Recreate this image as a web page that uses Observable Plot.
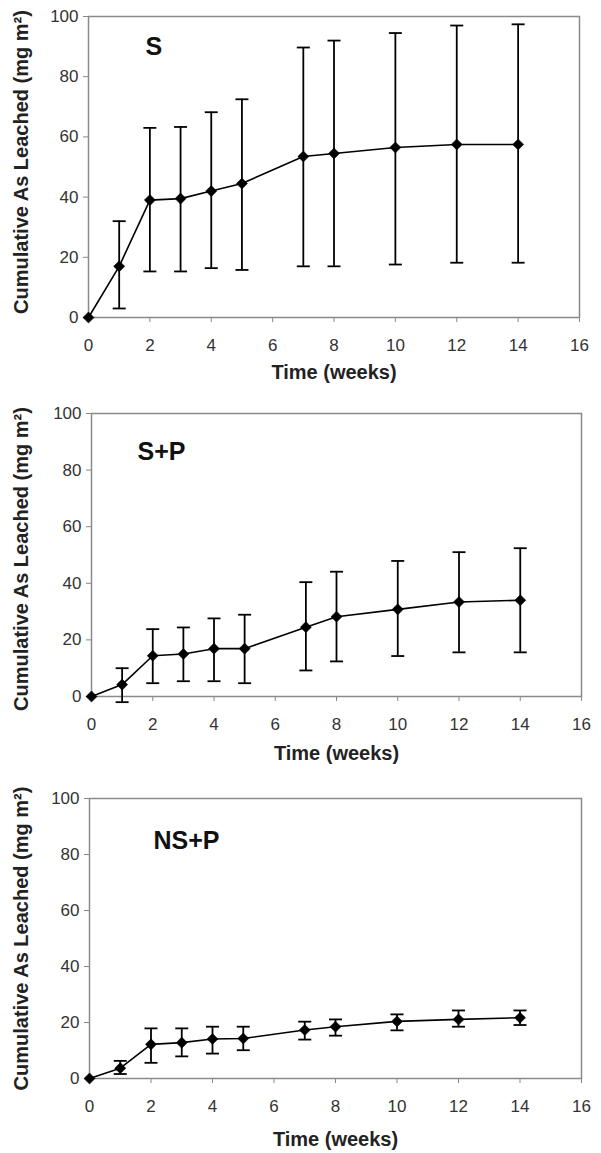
<!DOCTYPE html>
<html>
<head>
<meta charset="utf-8">
<script src="https://cdn.jsdelivr.net/npm/d3@7"></script>
<script src="https://cdn.jsdelivr.net/npm/@observablehq/plot@0.6"></script>
<style>
  html, body { margin: 0; padding: 0; background: #fff; }
  #chart { position: relative; width: 601px; height: 1153px; background: #fff; font-family: "Liberation Sans", Arial, sans-serif; }
  #chart > div { position: absolute; left: 0; }
</style>
</head>
<body>
<div id="chart"></div>
<script>
// ---- data ----
const weeks = [0, 1, 2, 3, 4, 5, 7, 8, 10, 12, 14];
const panelNames = ["S", "S+P", "NS+P"];

const S_mean  = [0, 17, 39, 39.5, 42, 44.5, 53.5, 54.5, 56.5, 57.5, 57.5];
const S_upper = [null, 32, 63, 63.3, 68.2, 72.5, 89.7, 92, 94.5, 97, 97.4];
const S_lower = [null, 3, 15.3, 15.3, 16.4, 15.8, 17, 17, 17.6, 18.2, 18.2];

const SP_mean  = [0, 4.2, 14.4, 15, 16.9, 16.9, 24.5, 28.2, 30.8, 33.4, 34];
const SP_upper = [null, 10, 23.8, 24.4, 27.6, 28.9, 40.4, 44.1, 47.9, 51, 52.4];
const SP_lower = [null, -2, 4.7, 5.4, 5.4, 4.7, 9.2, 12.4, 14.3, 15.6, 15.6];

const NSP_mean  = [0, 3.7, 12.2, 12.8, 14.1, 14.3, 17.3, 18.5, 20.4, 21.1, 21.7];
const NSP_upper = [null, 6.3, 17.9, 17.9, 18.5, 18.5, 20.3, 21.1, 22.9, 24.3, 24.3];
const NSP_lower = [null, 1.6, 5.6, 7.9, 8.9, 10.1, 13.9, 15.3, 17.2, 18.5, 19.1];

const xTicks = [0, 2, 4, 6, 8, 10, 12, 14, 16];
const yTicks = [0, 20, 40, 60, 80, 100];
const xTitle = "Time (weeks)";
const yTitle = "Cumulative As Leached (mg m²)";

// ---- layout ----
const panels = [
  {name: panelNames[0], mean: S_mean, upper: S_upper, lower: S_lower,
   top: 0, height: 380, mt: 16, mb: 63, ml: 88, mr: 22, lx: 57, ly: 30, ydy: -5, tdy: 47},
  {name: panelNames[1], mean: SP_mean, upper: SP_upper, lower: SP_lower,
   top: 380, height: 380, mt: 33, mb: 64, ml: 91, mr: 20, lx: 46, ly: 38, ydy: 4, tdy: 49},
  {name: panelNames[2], mean: NSP_mean, upper: NSP_upper, lower: NSP_lower,
   top: 760, height: 393, mt: 38, mb: 75, ml: 89, mr: 20, lx: 64, ly: 42, ydy: 0, tdy: 53}
];

const capSymbol = {
  draw(ctx, size) {
    const r = Math.sqrt(size / Math.PI);
    ctx.moveTo(-r, 0);
    ctx.lineTo(r, 0);
  }
};

const chart = document.getElementById("chart");

for (const p of panels) {
  const rows = weeks.map((w, i) => ({week: w, mean: p.mean[i], upper: p.upper[i], lower: p.lower[i]}));
  const bars = rows.filter(d => d.upper != null);

  const plot = Plot.plot({
    width: 601,
    height: p.height,
    marginTop: p.mt,
    marginBottom: p.mb,
    marginLeft: p.ml,
    marginRight: p.mr,
    style: {fontFamily: '"Liberation Sans", Arial, sans-serif', background: "transparent", overflow: "visible"},
    x: {domain: [0, 16]},
    y: {domain: [0, 100]},
    marks: [
      Plot.axisX({ticks: xTicks, tickSize: 5, tickPadding: 16, fontSize: 17, color: "#333", stroke: "#888", label: null}),
      Plot.axisY({ticks: yTicks, tickSize: 5, tickPadding: 5, fontSize: 17, color: "#333", stroke: "#888", label: null}),
      Plot.frame({stroke: "#8a8a8a", strokeWidth: 1.5}),
      Plot.ruleX(bars, {x: "week", y1: "lower", y2: "upper", stroke: "#000", strokeWidth: 1.8}),
      Plot.dot(bars, {x: "week", y: "upper", symbol: capSymbol, r: 6.5, stroke: "#000", strokeWidth: 1.8}),
      Plot.dot(bars, {x: "week", y: "lower", symbol: capSymbol, r: 6.5, stroke: "#000", strokeWidth: 1.8}),
      Plot.line(rows, {x: "week", y: "mean", stroke: "#000", strokeWidth: 1.6}),
      Plot.dot(rows, {x: "week", y: "mean", symbol: "diamond2", r: 5, fill: "#000", stroke: "#000", strokeWidth: 0.5}),
      Plot.text([p.name], {frameAnchor: "top-left", text: d => d, dx: p.lx, dy: p.ly, textAnchor: "start", lineAnchor: "middle", fontSize: 25, fontWeight: "bold", fill: "#111"}),
      Plot.text([yTitle], {frameAnchor: "left", text: d => d, rotate: -90, textAnchor: "middle", lineAnchor: "middle", dx: 21 - p.ml, dy: p.ydy, fontSize: 20, fontWeight: "bold", fill: "#222"}),
      Plot.text([xTitle], {frameAnchor: "bottom", text: d => d, dy: p.tdy, lineAnchor: "top", fontSize: 20, fontWeight: "bold", fill: "#222"})
    ]
  });
  const wrap = document.createElement("div");
  wrap.style.top = p.top + "px";
  wrap.appendChild(plot);
  chart.appendChild(wrap);
}
</script>
</body>
</html>
